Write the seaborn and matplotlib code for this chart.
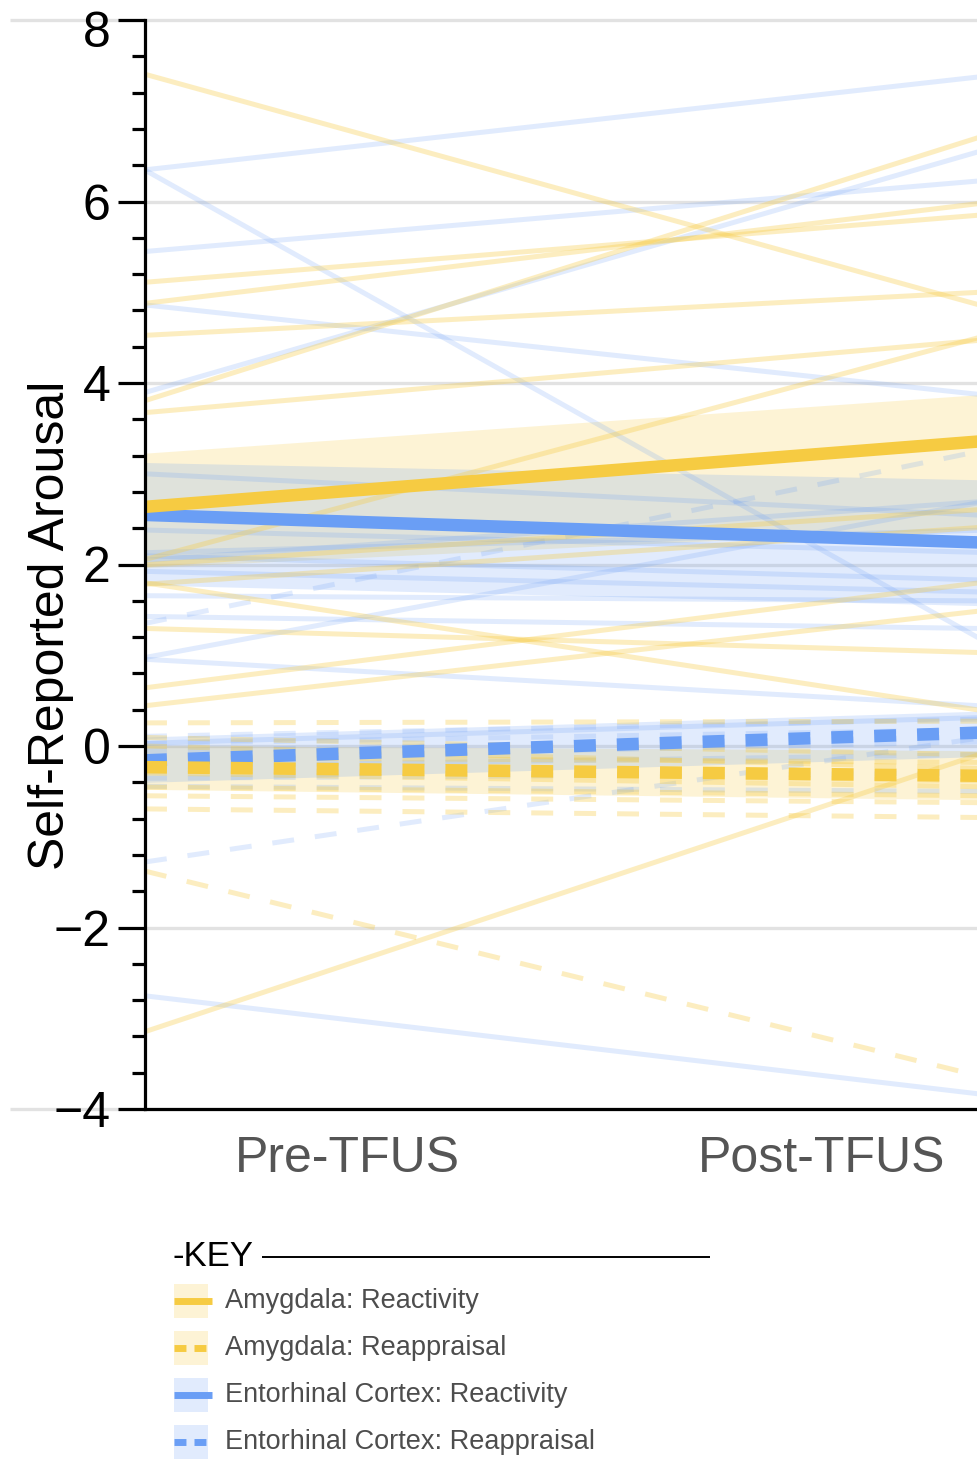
import numpy as np
import pandas as pd
import matplotlib
matplotlib.use("Agg")
import matplotlib.pyplot as plt
import matplotlib.transforms as mtransforms
from matplotlib.lines import Line2D
from matplotlib.patches import Rectangle
from matplotlib.ticker import MultipleLocator
import seaborn as sns

# ---------------- data ----------------
conditions = ["Pre-TFUS", "Post-TFUS"]
group_names = ["Amygdala: Reactivity", "Amygdala: Reappraisal",
               "Entorhinal Cortex: Reactivity", "Entorhinal Cortex: Reappraisal"]

# individual participants (value at Pre, value at Post)
amy_react_pre = [6.68, 5.32, 5.19, 4.66, 4.63, 3.90, 2.75, 1.96, 1.40, 1.22, 0.97, 0.74, -2.28, 2.17]
amy_react_post = [5.34, 5.71, 5.77, 4.91, 6.16, 4.32, 4.04, 2.29, 0.66, 1.08, 1.58, 1.29, -0.67, 2.49]

amy_reapp_pre = [0.26, 0.04, -0.07, -0.14, -0.29, -0.34, -0.48, -0.57, -0.72, -2.02]
amy_reapp_post = [0.27, -0.06, -0.20, -0.17, -0.36, -0.42, -0.53, -0.61, -0.77, -3.21]

ent_react_pre = [6.64, 4.88, 5.67, 4.58, 4.65, -3.06, 1.64, 1.39, 1.46, 0.81, 0.11,
                 2.87, 2.31, 2.20, 2.02, 1.86, 2.23]
ent_react_post = [7.18, 2.16, 6.08, 4.06, 6.05, -3.63, 1.61, 1.32, 2.36, 0.54, 0.26,
                  2.63, 2.18, 2.33, 1.88, 1.74, 2.57]

ent_reapp_pre = [0.16, 0.07, -0.01, -0.09, -0.19, -0.34, -0.46, -0.89, 1.89]
ent_reapp_post = [0.26, 0.15, 0.07, 0.01, -0.12, -0.31, -0.49, -0.17, 2.89]

# group means and confidence bands (Pre, Post)
mean_pre = [2.84, -0.26, 2.46, -0.07]
mean_post = [3.22, -0.31, 2.30, 0.09]
ci_lo_pre = [2.09, -0.51, 1.71, -0.32]
ci_lo_post = [2.32, -0.57, 1.59, -0.17]
ci_hi_pre = [3.41, -0.01, 3.07, 0.18]
ci_hi_post = [3.75, -0.04, 2.97, 0.33]

# ---------------- style ----------------
YELLOW = "#F6CB42"
BLUE = "#6A9EF5"
group_colors = [YELLOW, YELLOW, BLUE, BLUE]
group_dashed = [False, True, False, True]
indiv_alpha = [0.33, 0.33, 0.2, 0.2]
band_alpha = [0.22, 0.22, 0.2, 0.2]
DASH = (0, (15.8, 15.1))

sns.set_theme(style="white")
plt.rcParams["font.family"] = ["Liberation Sans", "DejaVu Sans"]
plt.rcParams["lines.scale_dashes"] = False
plt.rcParams["lines.solid_capstyle"] = "butt"
plt.rcParams["lines.dash_capstyle"] = "butt"

W, H = 978, 1460
fig = plt.figure(figsize=(W / 100, H / 100), dpi=100)
ax = fig.add_axes([145 / W, 1 - 1109 / H, 833 / W, 1089 / H])

X_LEFT, X_RIGHT = -0.539, 1.355
ax.set_xlim(X_LEFT, X_RIGHT)
ax.set_ylim(-4, 8)

xe = np.array([X_LEFT, X_RIGHT])


def extend(a, b):
    return a + (b - a) * xe


# grid lines
for yv in [-2, 0, 2, 4, 6]:
    ax.axhline(yv, color="#e2e2e2", lw=2.4, zorder=0.5)
for yv in [-4, 8]:
    ax.axhline(yv, xmin=-135 / 833, xmax=1, color="#e2e2e2", lw=2.4,
               zorder=0.5, clip_on=False)

# bands
for gi in range(4):
    ax.fill_between(xe, extend(ci_lo_pre[gi], ci_lo_post[gi]),
                    extend(ci_hi_pre[gi], ci_hi_post[gi]),
                    color=group_colors[gi], alpha=band_alpha[gi], lw=0, zorder=1)

# individual lines
indiv = [(amy_react_pre, amy_react_post), (amy_reapp_pre, amy_reapp_post),
         (ent_react_pre, ent_react_post), (ent_reapp_pre, ent_reapp_post)]
draw_order = [2, 3, 0, 1]
for gi in draw_order:
    pre, post = indiv[gi]
    rows = []
    for i, (a, b) in enumerate(zip(pre, post)):
        for x, y in zip(xe, extend(a, b)):
            rows.append({"subject": i, "x": x, "y": y})
    df = pd.DataFrame(rows)
    kw = dict(linestyle=DASH) if group_dashed[gi] else {}
    sns.lineplot(data=df, x="x", y="y", units="subject", estimator=None,
                 color=group_colors[gi], alpha=indiv_alpha[gi], linewidth=3.6,
                 sort=False, legend=False, ax=ax, zorder=2, **kw)

# mean lines
for gi in [3, 1, 2, 0]:
    df = pd.DataFrame({"x": xe, "y": extend(mean_pre[gi], mean_post[gi])})
    kw = dict(linestyle=DASH) if group_dashed[gi] else {}
    sns.lineplot(data=df, x="x", y="y", color=group_colors[gi], linewidth=9,
                 sort=False, legend=False, ax=ax, zorder=3, **kw)

# axes styling
for s in ["top", "right"]:
    ax.spines[s].set_visible(False)
for s in ["left", "bottom"]:
    ax.spines[s].set_color("black")
    ax.spines[s].set_linewidth(2.3)
    ax.spines[s].set_zorder(5)

ax.set_xticks([0, 1])
ax.set_xticklabels(conditions)
ax.set_yticks([-4, -2, 0, 2, 4, 6, 8])
ax.yaxis.set_minor_locator(MultipleLocator(0.4))
ax.tick_params(axis="x", which="major", direction="inout", length=21.6, width=2.3,
               color="black", labelsize=36, labelcolor="#555555", pad=9)
ax.tick_params(axis="y", which="major", direction="out", length=19.4, width=2.3,
               color="black", labelsize=36, labelcolor="black", pad=5.5, left=True)
ax.tick_params(axis="y", which="minor", direction="out", length=9.4, width=2.3,
               color="black", left=True)
ax.set_xlabel("")
ax.set_ylabel("")

fig.canvas.draw()
lbl = ax.get_xticklabels()[0]
lbl.set_transform(lbl.get_transform() +
                  mtransforms.ScaledTranslation(-0.35, 0, fig.dpi_scale_trans))
ylbls = ax.get_yticklabels()
top_lbl = ylbls[-1]
top_lbl.set_transform(top_lbl.get_transform() +
                      mtransforms.ScaledTranslation(0, -0.09, fig.dpi_scale_trans))

fig.text(51 / W, 1 - 625 / H, "Self-Reported Arousal", rotation=90,
         ha="center", va="center", fontsize=36, color="black")

# key / legend
fig.text(173 / W, 1 - 1256 / H, "-KEY", ha="left", va="center",
         fontsize=25, color="black")
fig.add_artist(Line2D([262 / W, 710 / W], [1 - 1257 / H] * 2,
                      transform=fig.transFigure, color="black", lw=1.4))
row_y = [1301, 1348, 1395, 1442]
for gi, yc in enumerate(row_y):
    c = group_colors[gi]
    fig.add_artist(Rectangle((174 / W, 1 - (yc + 17) / H), 34 / W, 34 / H,
                             transform=fig.transFigure, facecolor=c,
                             alpha=band_alpha[gi], lw=0))
    ls = (0, (8.6, 5.8)) if group_dashed[gi] else "-"
    fig.add_artist(Line2D([174 / W, 212 / W], [1 - yc / H] * 2,
                          transform=fig.transFigure, color=c, lw=5,
                          linestyle=ls))
    fig.text(225 / W, 1 - yc / H, group_names[gi], ha="left", va="center",
             fontsize=19.5, color="#4d4d4d")

fig.savefig("out.png", dpi=100)
